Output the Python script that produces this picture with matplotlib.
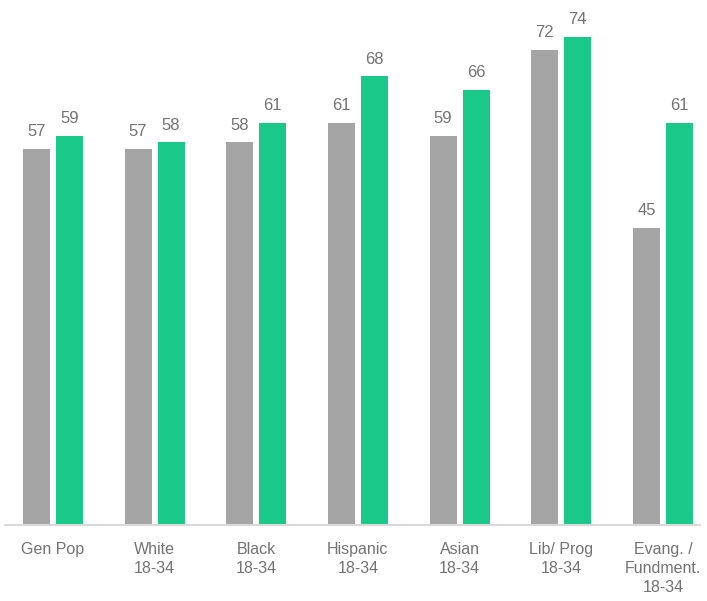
import numpy as np
import matplotlib.pyplot as plt

plt.rcParams['font.family'] = ['Liberation Sans', 'DejaVu Sans']

groups = ["Gen Pop", "White\n18-34", "Black\n18-34", "Hispanic\n18-34",
          "Asian\n18-34", "Lib/ Prog\n18-34", "Evang. /\nFundment.\n18-34"]
gen_pop = [57, 57, 58, 61, 59, 72, 45]
young = [59, 58, 61, 68, 66, 74, 61]

gray = "#A5A5A5"
green = "#1AC98A"
text_col = "#737373"

fig = plt.figure(figsize=(7.07, 6.01), dpi=100)
ax = fig.add_axes([0.007, 0.1265, 0.983, 0.867])

x = np.arange(len(groups))
w = 0.265
off = 0.162
b1 = ax.bar(x - off, gen_pop, w, color=gray)
b2 = ax.bar(x + off, young, w, color=green)

for bars, vals in ((b1, gen_pop), (b2, young)):
    for b, v in zip(bars, vals):
        ax.annotate(str(v), (b.get_x() + b.get_width() / 2, v),
                    xytext=(0, 7), textcoords="offset points",
                    ha="center", va="bottom", fontsize=12, color=text_col)

ax.set_xlim(-0.472, 6.364)
ax.set_ylim(0, 79)
ax.set_xticks(x)
ax.set_xticklabels(groups, fontsize=11.5, color=text_col, linespacing=1.35)
ax.tick_params(axis="x", length=0, pad=12)
ax.set_yticks([])
for s in ("top", "right", "left"):
    ax.spines[s].set_visible(False)
ax.spines["bottom"].set_color("#D9D9D9")
ax.spines["bottom"].set_linewidth(1.5)

fig.savefig("out.png", dpi=100)
